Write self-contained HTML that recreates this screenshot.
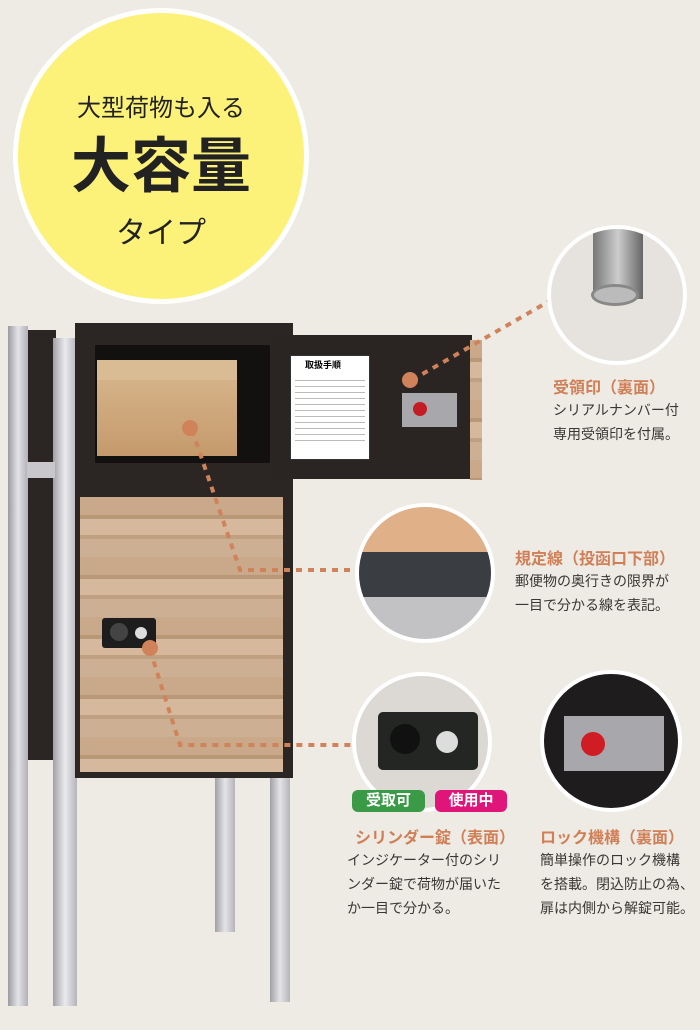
<!DOCTYPE html>
<html><head><meta charset="utf-8"><style>
*{margin:0;padding:0;box-sizing:border-box}
body{width:700px;height:1030px;background:#eeebe5;position:relative;overflow:hidden;font-family:"Liberation Sans","Noto Sans CJK JP",sans-serif}
.a{position:absolute}
.t{position:absolute;color:#d07f57;font-weight:bold;font-size:16px;white-space:nowrap}
.d{position:absolute;color:#3a3634;font-size:14px;line-height:24px;white-space:nowrap}
.wood{background:repeating-linear-gradient(180deg,#c9a98a 0 18px,#b99878 18px 22px,#d6b99c 22px 38px,#bfa080 38px 42px,#cdb093 42px 60px)}
</style></head><body>
<div class="a" style="left:13px;top:8px;width:296px;height:296px;border-radius:50%;background:#fcf27a;border:5px solid #fff"></div>
<div class="a" style="left:13px;top:88px;width:296px;text-align:center;font-size:24px;color:#222">大型荷物も入る</div>
<div class="a" style="left:13px;top:132px;width:296px;text-align:center;font-size:60px;font-weight:bold;color:#222;line-height:70px">大容量</div>
<div class="a" style="left:13px;top:208px;width:296px;text-align:center;font-size:30px;color:#222">タイプ</div>

<!-- frame -->
<div class="a" style="left:8px;top:326px;width:20px;height:680px;background:linear-gradient(90deg,#9a9aa0,#e4e4e8,#b0b0b6)"></div>
<div class="a" style="left:28px;top:330px;width:28px;height:430px;background:#2b2523"></div>
<div class="a" style="left:53px;top:338px;width:24px;height:668px;background:linear-gradient(90deg,#a0a0a6,#eaeaee,#b4b4ba)"></div>
<div class="a" style="left:27px;top:462px;width:28px;height:16px;background:#c8c8cc"></div>
<div class="a" style="left:215px;top:770px;width:20px;height:162px;background:linear-gradient(90deg,#a0a0a6,#e4e4e8,#b4b4ba)"></div>
<div class="a" style="left:270px;top:770px;width:20px;height:232px;background:linear-gradient(90deg,#a0a0a6,#e4e4e8,#b4b4ba)"></div>
<!-- cabinet -->
<div class="a" style="left:75px;top:323px;width:218px;height:455px;background:#2b2523"></div>
<div class="a" style="left:95px;top:345px;width:175px;height:118px;background:#131110"></div>
<div class="a" style="left:97px;top:360px;width:140px;height:96px;background:linear-gradient(180deg,#d9b88f,#c49a6c);"></div>
<div class="a" style="left:97px;top:360px;width:140px;height:20px;background:#d9bc94"></div>
<div class="a" style="left:80px;top:497px;width:203px;height:275px" ></div>
<div class="a wood" style="left:80px;top:497px;width:203px;height:275px"></div>
<div class="a" style="left:102px;top:618px;width:54px;height:30px;background:#1d1d1d;border-radius:3px"></div>
<div class="a" style="left:110px;top:623px;width:18px;height:18px;border-radius:50%;background:#444"></div>
<div class="a" style="left:135px;top:627px;width:12px;height:12px;border-radius:50%;background:#ddd"></div>
<!-- open door -->
<div class="a" style="left:272px;top:335px;width:200px;height:144px;background:#2a2422"></div>
<div class="a wood" style="left:470px;top:340px;width:12px;height:140px"></div>
<div class="a" style="left:290px;top:355px;width:80px;height:105px;background:#fff;border:1px solid #333"></div>
<div class="a" style="left:305px;top:358px;font-size:9px;font-weight:bold">取扱手順</div>
<div class="a" style="left:295px;top:375px;width:70px;height:70px;background:repeating-linear-gradient(180deg,#fff 0 5px,#bbb 5px 6px)"></div>
<div class="a" style="left:402px;top:393px;width:55px;height:34px;background:#a8a8ac"></div>
<div class="a" style="left:413px;top:402px;width:14px;height:14px;border-radius:50%;background:#c41c24"></div>

<!-- dotted connectors -->
<svg class="a" style="left:0;top:0" width="700" height="1030">
<g stroke="#d0835a" stroke-width="4" stroke-dasharray="6 6" fill="none">
<path d="M192 430 L240 570 L355 570"/>
<path d="M150 650 L180 745 L355 745"/>
<path d="M412 380 L560 295"/>
</g>
<g fill="#d0835a"><circle cx="190" cy="428" r="8"/><circle cx="150" cy="648" r="8"/><circle cx="410" cy="380" r="8"/></g>
</svg>

<!-- circles -->
<div class="a" style="left:547px;top:225px;width:140px;height:140px;border-radius:50%;background:#e6e3df;border:4px solid #fff;overflow:hidden">
<div class="a" style="left:42px;top:0;width:50px;height:70px;background:linear-gradient(90deg,#777,#ccc,#666)"></div>
<div class="a" style="left:40px;top:55px;width:48px;height:22px;border-radius:50%;background:#bbb;border:3px solid #888"></div></div>
<div class="a" style="left:355px;top:503px;width:140px;height:140px;border-radius:50%;background:#c2c2c4;border:4px solid #fff;overflow:hidden">
<div class="a" style="left:0;top:0;width:140px;height:45px;background:#e0b088"></div>
<div class="a" style="left:0;top:45px;width:140px;height:45px;background:#3a3d42"></div></div>
<div class="a" style="left:352px;top:672px;width:140px;height:140px;border-radius:50%;background:#dcd8d4;border:4px solid #fff;overflow:hidden">
<div class="a" style="left:22px;top:36px;width:100px;height:58px;background:#232623;border-radius:5px"></div>
<div class="a" style="left:34px;top:48px;width:30px;height:30px;border-radius:50%;background:#111"></div>
<div class="a" style="left:80px;top:55px;width:22px;height:22px;border-radius:50%;background:#ddd"></div></div>
<div class="a" style="left:540px;top:670px;width:142px;height:142px;border-radius:50%;background:#1e1c1c;border:4px solid #fff;overflow:hidden">
<div class="a" style="left:20px;top:42px;width:100px;height:55px;background:#a8a8ac"></div>
<div class="a" style="left:37px;top:58px;width:24px;height:24px;border-radius:50%;background:#d01c24"></div></div>

<div class="a" style="left:352px;top:790px;width:73px;height:22px;background:#3a9a45;border-radius:6px;color:#fff;font-weight:bold;font-size:15px;text-align:center;line-height:22px">受取可</div>
<div class="a" style="left:435px;top:790px;width:72px;height:22px;background:#e0157a;border-radius:6px;color:#fff;font-weight:bold;font-size:15px;text-align:center;line-height:22px">使用中</div>

<div class="t" style="left:553px;top:374px">受領印（裏面）</div>
<div class="d" style="left:553px;top:398px">シリアルナンバー付<br>専用受領印を付属。</div>
<div class="t" style="left:515px;top:545px">規定線（投函口下部）</div>
<div class="d" style="left:515px;top:569px">郵便物の奥行きの限界が<br>一目で分かる線を表記。</div>
<div class="t" style="left:355px;top:824px">シリンダー錠（表面）</div>
<div class="d" style="left:347px;top:848px">インジケーター付のシリ<br>ンダー錠で荷物が届いた<br>か一目で分かる。</div>
<div class="t" style="left:540px;top:824px">ロック機構（裏面）</div>
<div class="d" style="left:540px;top:848px">簡単操作のロック機構<br>を搭載。閉込防止の為、<br>扉は内側から解錠可能。</div>
</body></html>
